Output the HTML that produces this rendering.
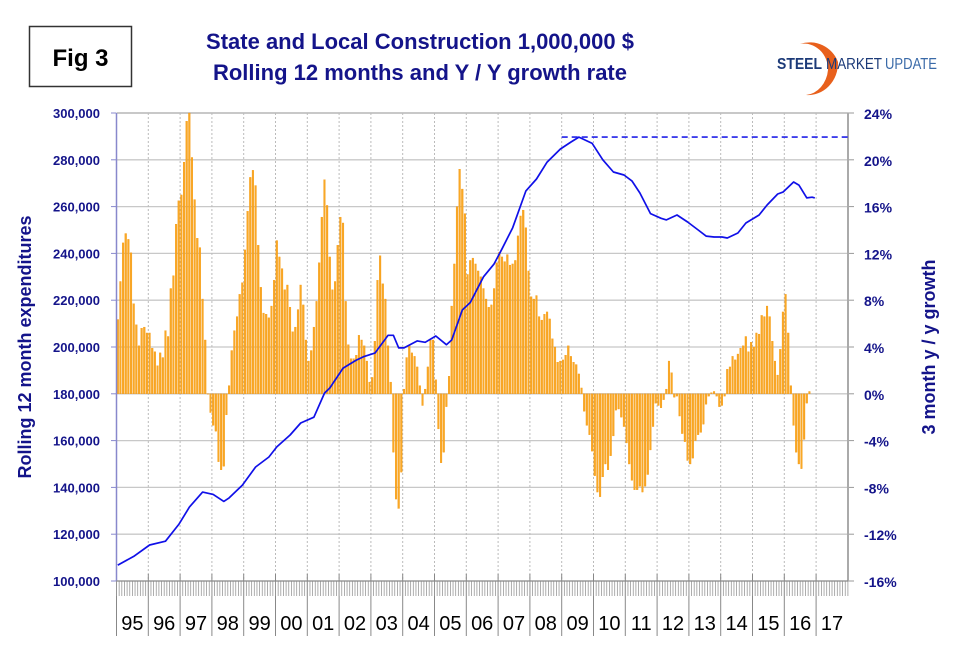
<!DOCTYPE html>
<html><head><meta charset="utf-8"><style>
body{margin:0;background:#fff;}
svg{display:block;font-family:"Liberation Sans",Arial,sans-serif;}
</style></head><body>
<svg id="chart" width="960" height="656" viewBox="0 0 960 656">
<rect x="29.5" y="26.5" width="102" height="60" fill="#fff" stroke="#333" stroke-width="1.5"/>
<text x="80.5" y="66" text-anchor="middle" font-size="24" font-weight="bold" fill="#000">Fig 3</text>
<text x="420" y="49" text-anchor="middle" font-size="22" font-weight="bold" fill="#14148a">State and Local Construction 1,000,000 $</text>
<text x="420" y="80" text-anchor="middle" font-size="22" font-weight="bold" fill="#14148a">Rolling 12 months and Y / Y growth rate</text>
<g>
<path d="M800,44 A30,30 0 0 1 838,62 A30,32 0 0 1 806,95 A24,28 0 0 0 828,70 A24,26 0 0 0 800,44 Z" fill="#e8601c"/>
<text x="777" y="69" font-size="16" font-weight="bold" fill="#1c3a78" textLength="45" lengthAdjust="spacingAndGlyphs">STEEL</text>
<text x="826" y="69" font-size="16" fill="#1c3a78" textLength="56" lengthAdjust="spacingAndGlyphs">MARKET</text>
<text x="885" y="69" font-size="16" fill="#3a6aa8" textLength="52" lengthAdjust="spacingAndGlyphs">UPDATE</text>
</g>
<text transform="translate(31,347) rotate(-90)" text-anchor="middle" font-size="18" font-weight="bold" fill="#14148a">Rolling 12 month expenditures</text>
<text transform="translate(935,347) rotate(-90)" text-anchor="middle" font-size="18" font-weight="bold" fill="#14148a">3 month y / y growth</text>
<g id="grid"></g><g id="bars"></g><g id="axes"></g><g id="lines"></g>
</svg>
<script>
const barValues=[6.35,9.6,12.9,13.7,13.2,12.05,7.7,5.9,4.1,5.6,5.7,5.2,
5.2,3.9,3.6,2.4,3.5,3.1,5.4,4.9,9.0,10.1,14.5,16.5,
17.0,19.8,23.3,24.0,20.2,16.6,13.3,12.5,8.1,4.6,0,-1.6,
-2.7,-3.2,-5.8,-6.5,-6.2,-1.8,0.7,3.7,5.4,6.6,8.5,9.5,
12.3,15.6,18.5,19.1,17.8,12.7,9.1,6.9,6.8,6.5,7.5,9.7,
13.1,11.7,10.7,8.9,9.3,7.4,5.3,5.7,7.2,9.3,7.6,4.6,
2.8,3.7,5.7,7.9,11.2,15.1,18.3,16.1,11.7,8.9,9.6,12.7,
15.1,14.6,7.9,4.2,3.0,3.0,
3.3,5.0,4.6,4.1,2.8,1.0,1.4,4.5,9.7,11.8,9.4,8.1,4.1,1.0,-5.0,-9.0,-9.8,
-6.7,0.4,3.1,4.1,3.5,3.2,2.3,0.7,-1.0,0.4,2.3,4.6,4.6,1.2,-3.0,-5.9,-5.0,-1.1,
1.5,7.5,11.1,16.0,19.2,17.5,15.4,10.2,11.4,11.6,11.1,10.5,10.0,9.0,8.1,7.4,7.6,9.0,11.2,12.1,11.7,11.3,11.9,11.0,11.1,11.4,13.5,15.2,15.7,14.2,10.5,8.3,8.1,8.4,6.6,6.3,6.8,7.0,6.4,4.7,4.0,2.7,2.8,2.9,3.3,4.1,3.2,2.7,2.5,1.7,0.5,-1.5,-2.7,-3.5,-4.9,-7.0,
-8.4,-8.8,-7.1,-6.0,-6.5,-5.3,-3.6,-1.4,-1.3,-2.0,-2.8,-4.2,-6.0,-7.4,-8.2,-8.2,-7.9,-8.4,-7.9,-6.9,
-4.8,-2.8,-0.8,-1.0,-1.2,-0.5,0.4,2.8,1.8,-0.3,-0.2,-1.9,-3.4,-4.1,-5.7,-6.0,-5.5,-4.0,-3.5,-3.3,
-2.6,-0.9,-0.2,0.1,0.2,-0.2,-1.1,-1.0,-0.2,2.1,2.3,3.2,2.9,3.4,3.9,4.1,4.9,3.6,4.4,4.0,
5.2,5.1,6.7,6.6,7.5,6.6,4.5,2.8,1.6,3.8,7.0,8.5,5.2,0.7,-2.7,-5.0,-6.0,-6.4,-3.9,-0.8,0.2];
const lineMonths=[0,6,12,18,23,27,32,36,40,42,47,52,57,60,65,69,74,78,80,85,90,93,97,102,104,106,108,113,116,120,124,126,130,133,138,142,145,149,154,158,162,167,171,174,179,183,187,191,194,197,201,205,207,211,215,219,222,225,228,230,234,237,242,245,249,251,255,257,260,262,263];
const lineValues=[106.8,110.5,115.4,117,124.2,131.6,138,137,134,135.5,141,148.7,153,157.3,162.4,167.5,170,180.3,182.5,191,194.4,196,197.4,205,205,199.6,199.6,202.6,202,204.7,201,203,215.8,219,230,235.5,242,251,266.7,271.8,279,284.6,287.6,289.7,287,280,274.8,273.5,271,265.8,257,255,254.3,256.4,253.4,250,247.4,247,247,246.6,248.7,253,256.4,260.7,265.4,266.2,270.5,269.2,263.7,264,263.7];
const yearLabels=["95","96","97","98","99","00","01","02","03","04","05","06","07","08","09","10","11","12","13","14","15","16","17"];
const leftTicks=[100000,120000,140000,160000,180000,200000,220000,240000,260000,280000,300000];
const rightTicks=[-16,-12,-8,-4,0,4,8,12,16,20,24];

const NS="http://www.w3.org/2000/svg";
const X0=116.5,MW=31.8/12,TOP=113,BOT=581,RIGHT=848;
const yL=v=>BOT-(v/1000-100)/200*(BOT-TOP);
const yR=v=>BOT-(v+16)/40*(BOT-TOP);
const xM=i=>X0+MW*i;
function mk(tag,attrs,parent,txt){const e=document.createElementNS(NS,tag);for(const k in attrs)e.setAttribute(k,attrs[k]);if(txt!==undefined)e.textContent=txt;parent.appendChild(e);return e;}
const grid=document.getElementById('grid'),bars=document.getElementById('bars'),axes=document.getElementById('axes'),lines=document.getElementById('lines');
leftTicks.forEach((t,k)=>{const y=yL(t);
 if(k>0){const g=mk('line',{x1:X0,x2:RIGHT,y1:y,y2:y,stroke:'#c8c8c8','stroke-width':k==leftTicks.length-1?2:1.3},grid);
 }
 const tl=mk('text',{x:100,y:y+5,'text-anchor':'end','font-size':13,'font-weight':'bold',fill:'#14148a'},axes,t.toLocaleString('en-US'));
 
 mk('line',{x1:111,x2:116,y1:y,y2:y,stroke:'#8888cc'},axes);
});
rightTicks.forEach(t=>{const y=yR(t);
 const tl=mk('text',{x:864,y:y+6,'font-size':14,'font-weight':'bold',fill:'#14148a'},axes,t+'%');
 
 mk('line',{x1:848,x2:854,y1:y,y2:y,stroke:'#999'},axes);
});
yearLabels.forEach((l,k)=>{const x=xM(12*k);
 if(k>0){const v=mk('line',{x1:x,x2:x,y1:TOP,y2:BOT,stroke:'#bbb','stroke-dasharray':'2,2'},grid);
 }
 mk('line',{x1:x,x2:x,y1:574,y2:636,stroke:'#888'},axes);
 const tl=mk('text',{x:x+MW*6,y:630,'text-anchor':'middle','font-size':20,fill:'#000'},axes,l);
 
});
for(let i=0;i<=yearLabels.length*12;i++){if(xM(i)>RIGHT)break;mk('line',{x1:xM(i),x2:xM(i),y1:BOT,y2:596,stroke:'#999','stroke-width':0.8},axes);}
const z=yR(0);
barValues.forEach((v,i)=>{const y=yR(v);
 const r=mk('rect',{x:xM(i)+0.4,y:Math.min(y,z),width:MW-0.9,height:Math.max(0.5,Math.abs(z-y)),fill:'#f9a825',stroke:'#f39000','stroke-width':0.3},bars);
 
});
mk('line',{x1:X0,x2:X0,y1:TOP,y2:BOT,stroke:'#8888cc','stroke-width':1.5},axes);
mk('line',{x1:RIGHT,x2:RIGHT,y1:TOP,y2:BOT,stroke:'#aaa','stroke-width':2},axes);
mk('line',{x1:X0,x2:RIGHT,y1:BOT,y2:BOT,stroke:'#888','stroke-width':1.2},axes);
const pts=lineMonths.map((m,k)=>(xM(m)+MW/2).toFixed(1)+','+yL(lineValues[k]*1000).toFixed(1)).join(' ');
const pl=mk('polyline',{points:pts,fill:'none',stroke:'#1010e8','stroke-width':1.7,'stroke-linejoin':'round'},lines);

const peak=Math.max(...lineValues),pi=lineMonths[lineValues.indexOf(peak)];
const dl=mk('line',{x1:xM(pi-6),x2:RIGHT,y1:yL(peak*1000),y2:yL(peak*1000),stroke:'#2020e8','stroke-width':1.6,'stroke-dasharray':'6,4'},lines);

</script>
</body></html>
